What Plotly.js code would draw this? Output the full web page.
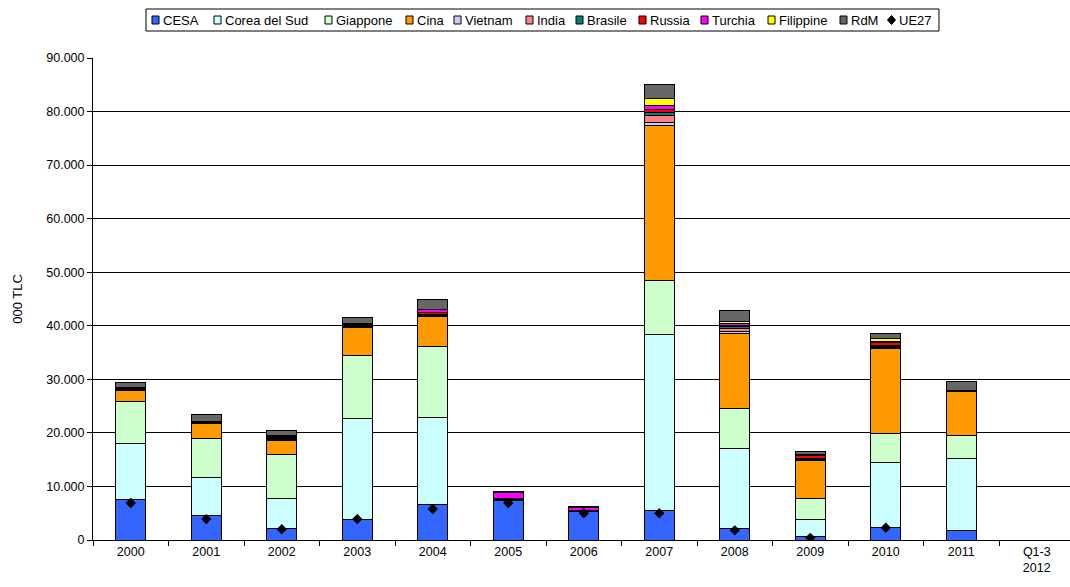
<!DOCTYPE html>
<html>
<head>
<meta charset="utf-8">
<script src="https://cdn.plot.ly/plotly-3.0.1.min.js"></script>
<style>html,body{margin:0;padding:0;background:#fff;}#chart{width:1070px;height:587px;}</style>
</head>
<body>
<div id="chart"></div>
<script>
var categories = ['2000','2001','2002','2003','2004','2005','2006','2007','2008','2009','2010','2011','Q1-3<br>2012'];
var CESA      = [7600, 4500, 2200, 3900, 6700, 7400, 5400, 5500, 2100, 600, 2400, 1800, null];
var Corea     = [10500, 7100, 5600, 18700, 16100, null, null, 32800, 14900, 3300, 12000, 13500, null];
var Giappone  = [7700, 7400, 8100, 11800, 13400, null, null, 10100, 7600, 3900, 5400, 4300, null];
var Cina      = [2200, 2700, 2600, 5200, 5600, null, null, 29000, 13900, 7100, 16000, 8200, null];
var Vietnam   = [100, 100, 200, 100, 100, null, null, 600, 500, 100, 200, 100, null];
var India     = [100, 100, 200, 100, 200, null, null, 1200, 500, 100, 200, null, null];
var Brasile   = [null, 100, 200, 200, 100, 100, null, 700, 300, 200, 200, null, null];
var Russia    = [300, 200, 300, 300, 300, 300, 200, 400, 300, 400, 500, 100, null];
var Turchia   = [null, null, 200, 100, 600, 1000, 500, 800, 400, 200, 200, null, null];
var Filippine = [null, null, null, null, null, null, null, 1300, 300, null, 600, null, null];
var RdM       = [1000, 1200, 800, 1200, 1900, 300, 100, 2600, 2000, 700, 900, 1600, null];
var UE27      = [6900, 3900, 2000, 3900, 5800, 6900, 5000, 5000, 1800, 400, 2300, null, null];

var seriesNames  = ['CESA','Corea del Sud','Giappone','Cina','Vietnam','India','Brasile','Russia','Turchia','Filippine','RdM'];
var seriesValues = [CESA, Corea, Giappone, Cina, Vietnam, India, Brasile, Russia, Turchia, Filippine, RdM];
var seriesColors = ['#3366FF','#CCFFFF','#CCFFCC','#FF9900','#CCCCFF','#FF8080','#008080','#FF0000','#FF00FF','#FFFF00','#666666'];

var traces = seriesNames.map(function(n, i){
  return {
    type: 'bar', name: n, x: categories, y: seriesValues[i],
    marker: {color: seriesColors[i], line: {color: '#000', width: 1}},
    hoverinfo: 'skip', showlegend: false
  };
});
traces.push({
  type: 'scatter', mode: 'markers', name: 'UE27', x: categories, y: UE27,
  marker: {symbol: 'diamond', color: '#000', size: 8}, showlegend: false
});

/* custom compact legend (pixel layout of the legend box) */
var W = 1070, H = 587, mL = 93, mR = 0, mT = 58, mB = 47;
var pw = W - mL - mR, ph = H - mT - mB;
function px2x(p){ return (p - mL) / pw; }
function py2y(p){ return (H - mB - p) / ph; }
var legendX = [152, 214, 325, 406, 454, 526, 576, 639, 701, 768, 840, 888];
var legendNames = seriesNames.concat(['UE27']);
var shapes = [{
  type: 'rect', xref: 'paper', yref: 'paper',
  x0: px2x(146), x1: px2x(939), y0: py2y(31), y1: py2y(9),
  line: {color: '#000', width: 1}, fillcolor: '#fff', layer: 'above'
}];
var annotations = [];
legendNames.forEach(function(n, i){
  var x = legendX[i];
  if (i < seriesColors.length) {
    shapes.push({
      type: 'rect', xref: 'paper', yref: 'paper',
      x0: px2x(x), x1: px2x(x + 7), y0: py2y(24), y1: py2y(16),
      line: {color: '#000', width: 1}, fillcolor: seriesColors[i], layer: 'above'
    });
  } else {
    shapes.push({
      type: 'path', xref: 'paper', yref: 'paper', layer: 'above',
      path: 'M ' + px2x(x + 3.5) + ' ' + py2y(15.5) + ' L ' + px2x(x + 7.5) + ' ' + py2y(20) +
            ' L ' + px2x(x + 3.5) + ' ' + py2y(24.5) + ' L ' + px2x(x - 0.5) + ' ' + py2y(20) + ' Z',
      fillcolor: '#000', line: {color: '#000', width: 1}
    });
  }
  annotations.push({
    xref: 'paper', yref: 'paper', x: px2x(x + 9), y: py2y(20),
    xanchor: 'left', yanchor: 'middle', showarrow: false,
    text: n, font: {size: 13, color: '#000'}
  });
});

var layout = {
  width: W, height: H,
  barmode: 'stack', bargap: 0.6,
  separators: ',.',
  paper_bgcolor: '#fff', plot_bgcolor: '#fff',
  font: {family: 'Liberation Sans, Arial, sans-serif', size: 12, color: '#000'},
  margin: {l: mL, r: mR, t: mT, b: mB},
  showlegend: false,
  shapes: shapes,
  annotations: annotations,
  xaxis: {
    type: 'category', range: [-0.5, 12.44],
    tickson: 'boundaries', ticks: 'outside', ticklen: 5, tickcolor: '#000',
    showline: true, linecolor: '#000', linewidth: 1, showgrid: false,
    tickfont: {size: 12.5}
  },
  yaxis: {
    range: [0, 90000], dtick: 10000, tickformat: ',d',
    ticks: 'outside', ticklen: 5, tickcolor: '#000',
    showline: true, linecolor: '#000', linewidth: 1,
    showgrid: true, gridcolor: '#000', gridwidth: 1, zeroline: false,
    title: {text: '000 TLC', font: {size: 13}, standoff: 20},
    tickfont: {size: 12.5}
  }
};

Plotly.newPlot('chart', traces, layout, {displayModeBar: false, staticPlot: true});
</script>
</body>
</html>
